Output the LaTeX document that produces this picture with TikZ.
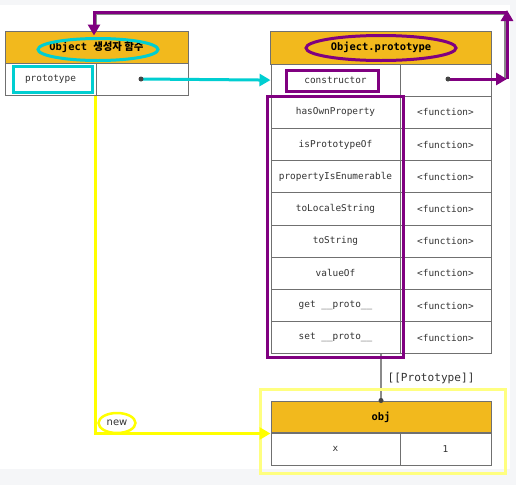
\documentclass[tikz,border=0pt]{standalone}
\usepackage{fontspec}
\setmonofont{DejaVu Sans Mono}
\setsansfont{DejaVu Sans}
\newfontfamily\krfont{Noto Sans CJK KR}
\usetikzlibrary{arrows.meta,shapes.geometric}
\definecolor{hdrorange}{HTML}{F2B91D}
\definecolor{bordergray}{HTML}{707070}
\definecolor{textgray}{HTML}{333333}
\definecolor{dotgray}{HTML}{444444}
\definecolor{linkgray}{HTML}{8A8A8A}
\definecolor{hlpurple}{HTML}{800080}
\definecolor{hlcyan}{HTML}{00CED1}
\definecolor{hlyellow}{HTML}{FFFF00}
\definecolor{paleyellow}{HTML}{FFFF80}
\definecolor{bggray}{HTML}{F5F6F8}
\newcommand\cellfont{\fontsize{9.4}{11}\selectfont\ttfamily}
\newcommand\hdrfont{\fontsize{10.4}{12}\selectfont\ttfamily\bfseries}
\begin{document}
\begin{tikzpicture}[x=1pt,y=-1pt,
  cell/.style={draw=bordergray, line width=1pt, inner sep=0pt, minimum height=32.2pt, text=textgray, font=\cellfont},
  hdr/.style={cell, fill=hdrorange, text=black, font=\hdrfont},
  graylink/.style={draw=linkgray, line width=1.2pt},
  hlp/.style={draw=hlpurple, line width=3pt},
  hlc/.style={draw=hlcyan, line width=3pt},
  hly/.style={draw=hlyellow, line width=3pt},
  tipbig/.style={-{Triangle[length=11pt,width=12pt]}},
  ring/.style={ellipse, inner sep=0pt, line width=3pt}]
\fill[bggray] (0,0) rectangle (516,485);
\fill[white] (0,5) rectangle (510,469);
\useasboundingbox (0,0) rectangle (516,485);

% left table
\node[hdr, minimum width=183pt, minimum height=32pt] (hL) at (96.5,47) {Object {\krfont\bfseries 생성자 함수}};
\node[cell, minimum width=91pt] (pk) at (50.5,79.5) {prototype};
\node[cell, minimum width=92pt] (pv) at (142,79.5) {};

% right table
\node[hdr, minimum width=221pt, minimum height=33pt] (hR) at (381,47.5) {Object.prototype};
\node[cell, minimum width=129pt] (k0) at (335.5,80.1) {constructor};
\node[cell, minimum width=91pt] (v0) at (445.5,80.1) {};
\foreach \k [count=\i] in {hasOwnProperty,isPrototypeOf,propertyIsEnumerable,toLocaleString,toString,valueOf,get \_\_proto\_\_,set \_\_proto\_\_}{
  \node[cell, minimum width=129pt] (k\i) at (335.5,{64+32.2*(\i+0.5)}) {\k};
  \node[cell, minimum width=91pt] (v\i) at (445.5,{64+32.2*(\i+0.5)}) {<function>};
}

% obj table
\node[hdr, minimum width=220pt, minimum height=32pt] (hO) at (381,417) {obj};
\node[cell, minimum width=129pt] (xk) at (335.5,449) {x};
\node[cell, minimum width=91pt] (xv) at (445.5,449) {1};

% gray links
\coordinate (dotL) at (141,79);
\coordinate (dotR) at (448,79);
\coordinate (g1) at (505,79);
\coordinate (g2) at (505,14.5);
\coordinate (g3) at (96,14.5);
\draw[graylink] (dotR) -- (g1) -- (g2) -- (g3) -- (g3 |- hL.north);
\draw[graylink] (hR.south |- k8.south) -- (hO.north);
\fill[dotgray] (hO.north) circle (2.5pt);
\node[font=\fontsize{11.1}{13}\selectfont\ttfamily, text=textgray] (plabel) at (431,378) {[[Prototype]]};

% highlights
\draw[hlc] (13,66) rectangle (92,92);
\node[ring, draw=hlcyan, minimum width=120pt, minimum height=22pt] (ringL) at (98,49.5) {};
\draw[hlc, tipbig] (dotL) -- (k0.west);
\fill[dotgray] (dotL) circle (2.5pt);

\node[ring, draw=hlpurple, minimum width=150pt, minimum height=25pt] (ringR) at (381,48) {};
\draw[hlp] (286,70) rectangle (378,91);
\draw[hlp] (267,96) rectangle (403,357);
\coordinate (p1) at (507,79);
\coordinate (p2) at (507,10);
\coordinate (p2b) at (507,12.5);
\coordinate (p3) at (94,12.5);
\draw[hlp, tipbig] (dotR) -- (p1);
\draw[hlp, tipbig] (p1) -- (p2);
\draw[hlp, tipbig] (p2b) -- (p3) -- ([yshift=-5pt]p3 |- hL.north);
\fill[dotgray] (dotR) circle (2.5pt);

\draw[draw=paleyellow, line width=3pt] (260,389) rectangle (505,473);
\draw[hly, tipbig] (pv.south west) |- (hO.south west);
\node[ring, draw=hlyellow, line width=2.5pt, minimum width=37pt, minimum height=20pt, fill=white, font=\fontsize{10}{12}\selectfont\sffamily, text=textgray] (newlbl) at (117,423) {new};
\end{tikzpicture}
\end{document}
